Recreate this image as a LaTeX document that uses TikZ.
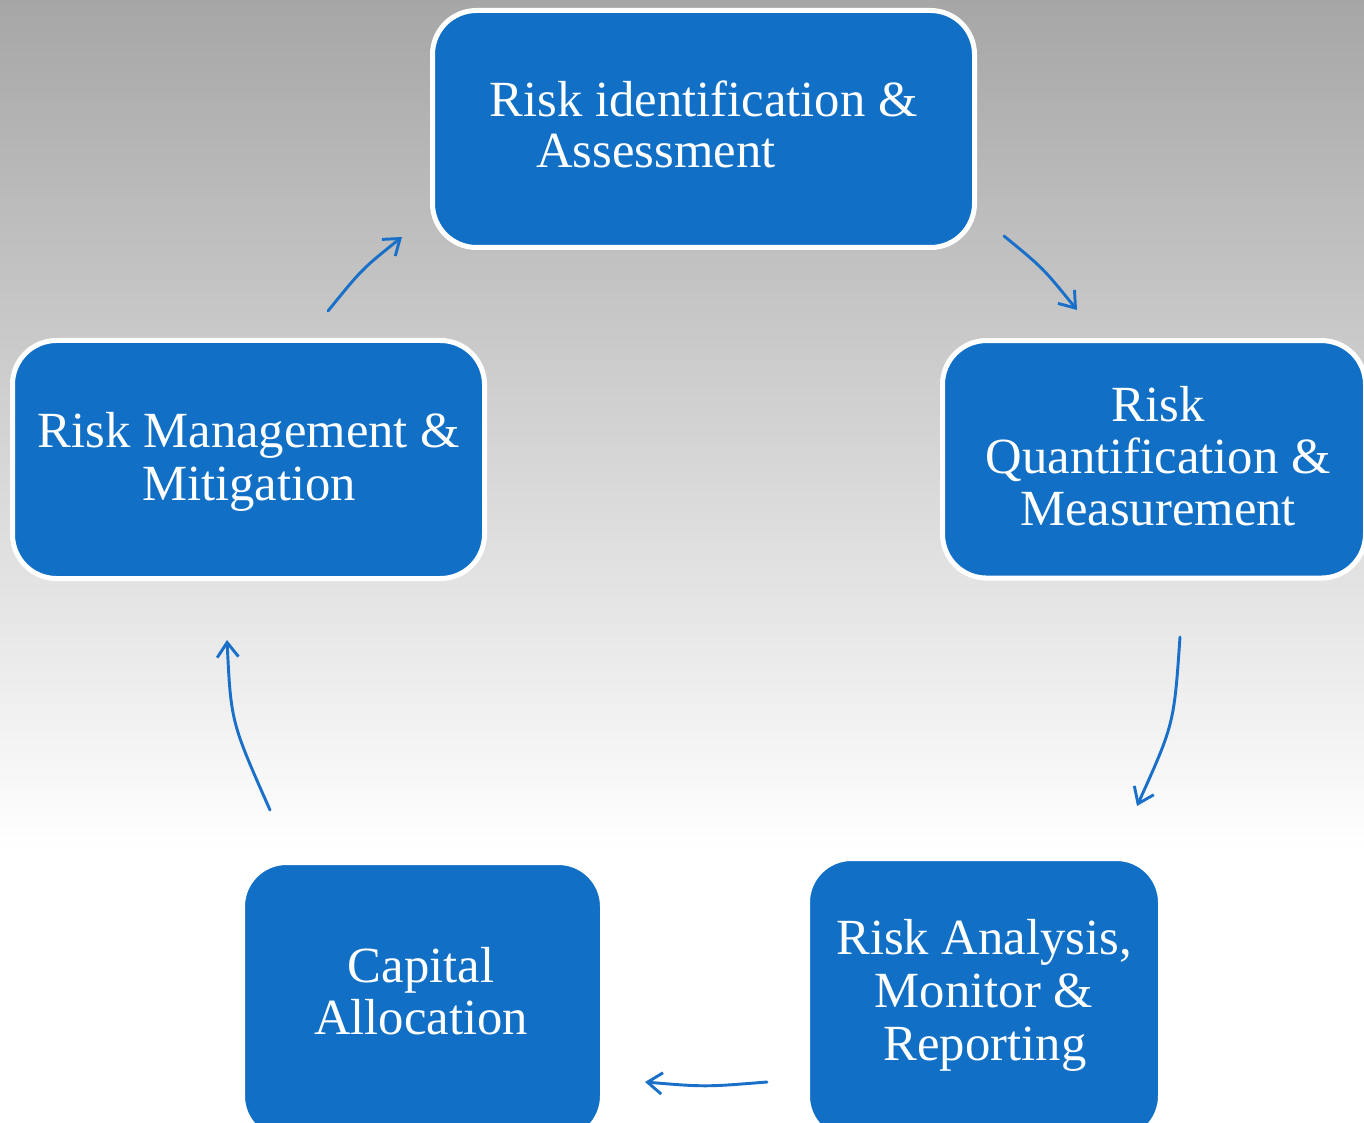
\documentclass[tikz,border=0pt]{standalone}
\usepackage{fontspec}
\setmainfont{Liberation Serif}
\usetikzlibrary{arrows.meta}
\definecolor{boxblue}{HTML}{1170C6}
\definecolor{flowblue}{HTML}{1A70C8}
\definecolor{bgtop}{HTML}{A6A6A6}
\begin{document}
\begin{tikzpicture}[x=0.75pt,y=-0.75pt,
  stagebox/.style={draw=white, line width=3.75pt, fill=boxblue, rounded corners=33pt, inner sep=0pt},
  caption/.style={text=white, font=\fontsize{38}{39.5}\selectfont, anchor=base, inner sep=0pt},
  flow/.style={draw=flowblue, line width=2.2pt, line cap=round,
    -{Straight Barb[length=11pt,width=16pt,line width=2.2pt]}}]
\useasboundingbox (0,0) rectangle (1364,1123);
\clip (0,0) rectangle (1364,1123);
% backdrop: grey fading to white
\shade[top color=bgtop, bottom color=white] (0,0) rectangle (1364,850);
\fill[white] (0,850) rectangle (1364,1123);

% process stages
\node[stagebox, minimum width=406.5pt, minimum height=177.75pt] (ident) at (703.5,129) {};
\node[stagebox, minimum width=317.25pt, minimum height=178.1pt] (quant) at (1154,459.3) {};
\node[stagebox, minimum width=354pt, minimum height=178.5pt] (mgmt) at (248.5,459.5) {};
\node[stagebox, minimum width=270pt, minimum height=208.1pt] (capital) at (422.5,1001.25) {};
\node[stagebox, minimum width=264.75pt, minimum height=211.1pt] (analysis) at (984,999.25) {};

% stage captions
\node[caption] (identA) at (703.5,117) {Risk identification \&};
\node[caption, anchor=base west] (identB) at (536,168) {Assessment};
\node[caption] (quantA) at (1158,421) {Risk};
\node[caption] (quantB) at (1158,473) {Quantification \&};
\node[caption] (quantC) at (1158,525) {Measurement};
\node[caption] (mgmtA) at (249,447) {Risk Management \&};
\node[caption] (mgmtB) at (249,500) {Mitigation};
\node[caption] (capA) at (421,982) {Capital};
\node[caption] (capB) at (421,1034) {Allocation};
\node[caption] (anaA) at (984,954) {Risk Analysis,};
\node[caption] (anaB) at (984,1007) {Monitor \&};
\node[caption] (anaC) at (985,1060) {Reporting};

% cycle arrows
\coordinate (f1s) at (1004,236); \coordinate (f1e) at (1077,310);
\coordinate (f2s) at (1180,637); \coordinate (f2e) at (1137,806);
\coordinate (f3s) at (767,1082); \coordinate (f3e) at (645,1082);
\coordinate (f4s) at (270,810);  \coordinate (f4e) at (227,640);
\coordinate (f5s) at (328,311);  \coordinate (f5e) at (402,237);

\draw[flow] (f1s) .. controls (1043,268) .. (f1e);
\draw[flow] (f2s) .. controls (1174,724) .. (f2e);
\draw[flow] (f3s) .. controls (705,1087) .. (f3e);
\draw[flow] (f4s) .. controls (231,722) .. (f4e);
\draw[flow] (f5s) .. controls (362,269) .. (f5e);
\end{tikzpicture}
\end{document}
